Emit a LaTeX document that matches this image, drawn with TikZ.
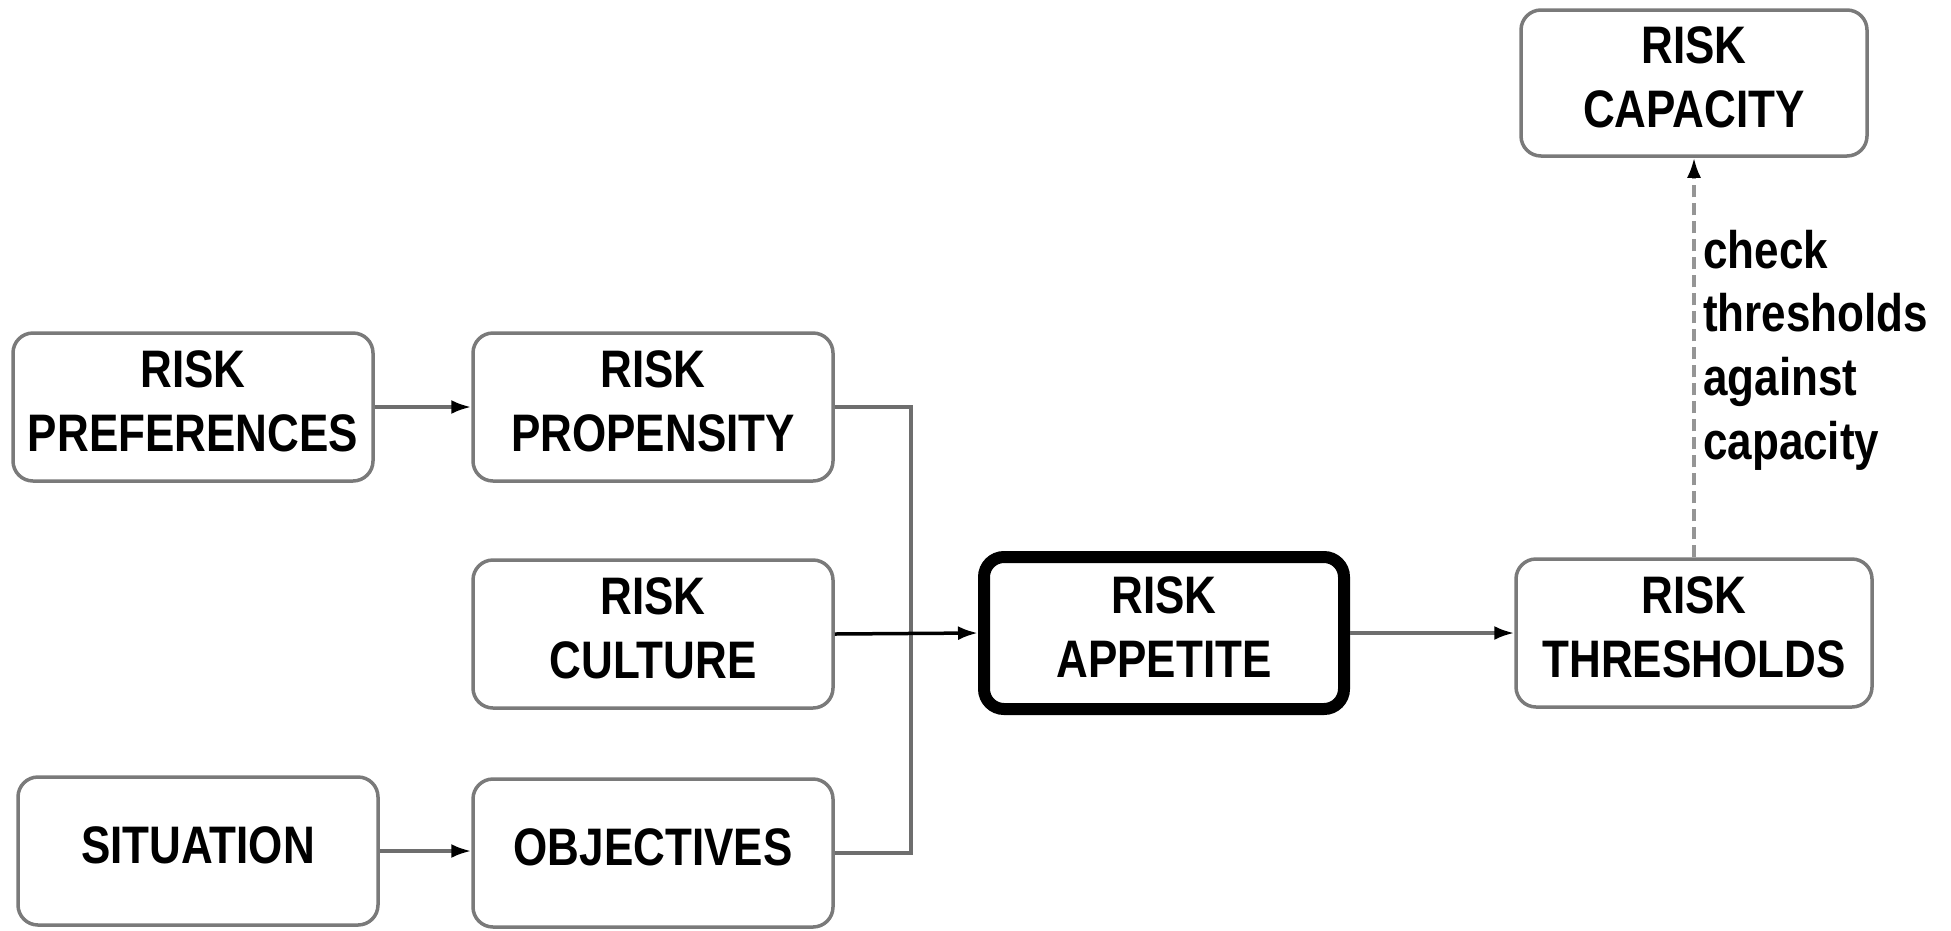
\documentclass[tikz,border=0pt]{standalone}
\usepackage{fontspec}
\setmainfont{Liberation Sans}
\usepackage{graphicx}
\usetikzlibrary{arrows.meta}
\definecolor{boxgray}{HTML}{7A7A7A}
\definecolor{linegray}{HTML}{6E6E6E}
\newcommand{\boxtext}[1]{\scalebox{1}[1.2]{\begin{tabular}{@{}c@{}}#1\end{tabular}}}
\begin{document}
\begin{tikzpicture}[x=1pt,y=-1pt,
  box/.style={draw=boxgray, line width=3.5pt, rounded corners=20pt, fill=white,
    minimum width=360pt, minimum height=148pt, inner sep=0pt, align=center,
    font=\fontsize{44}{53}\selectfont\bfseries},
  mainbox/.style={box, draw=black, line width=12pt, minimum width=360pt, minimum height=152pt},
  conn/.style={draw=linegray, line width=3.5pt},
  arr/.style={conn, -{Latex[length=20pt,width=14pt,black]}},
  lbl/.style={inner sep=0pt, anchor=west, align=left, font=\fontsize{44}{53}\selectfont\bfseries}
  ]
\useasboundingbox (0,0) rectangle (1951,930);
\node[box] (pref) at (193,407) {\boxtext{RISK\\PREFERENCES}};
\node[box] (prop) at (653,407) {\boxtext{RISK\\PROPENSITY}};
\node[box] (cult) at (653,634) {\boxtext{RISK\\CULTURE}};
\node[box] (sit)  at (198,851) {\boxtext{SITUATION}};
\node[box] (obj)  at (653,853) {\boxtext{OBJECTIVES}};
\node[mainbox] (app) at (1164,633) {\boxtext{RISK\\APPETITE}};
\node[box, minimum width=356pt] (thr) at (1694,633) {\boxtext{RISK\\THRESHOLDS}};
\node[box, minimum width=346pt, minimum height=146pt] (cap) at (1694,83) {\boxtext{RISK\\CAPACITY}};
\coordinate (jx) at (911,0);
\node[lbl] (lab) at (1703,351) {\scalebox{1}[1.2]{\begin{tabular}{@{}l@{}}check\\thresholds\\against\\capacity\end{tabular}}};
\draw[arr] (pref.east) -- (prop.west);
\draw[arr] (sit.east) -- (sit.east -| obj.west);
\draw[conn] (prop.east) -| (jx |- obj.east) -- (obj.east);
\draw[arr, draw=black] (cult.east) -- (app.west);
\draw[arr] (app.east) -- (thr.west);
\draw[arr, draw=boxgray!80, dash pattern=on 12pt off 6pt] (thr.north) -- (cap.south);
\end{tikzpicture}
\end{document}
